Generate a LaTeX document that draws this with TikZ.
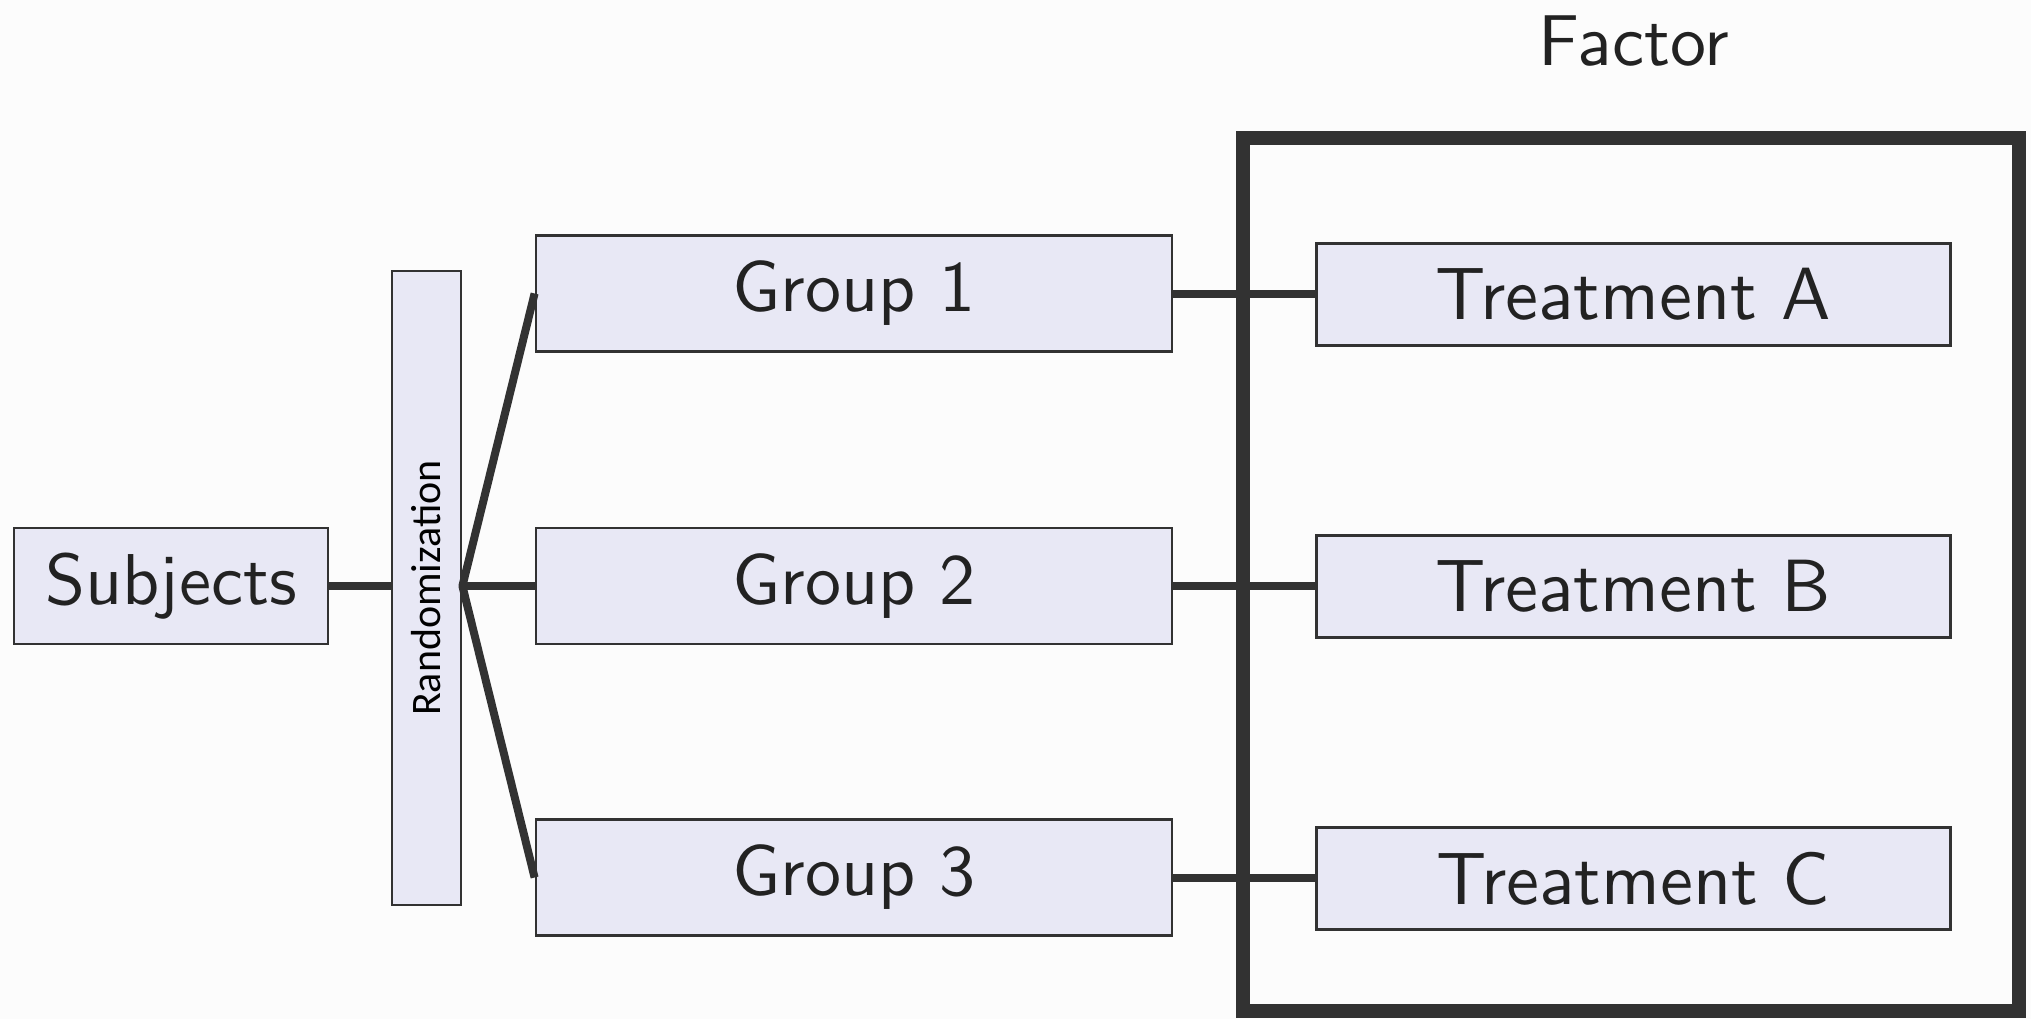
\documentclass[tikz,border=0pt]{standalone}
\usepackage{fontspec}
\newfontfamily\randfont{Carlito}
% the 10pt design of Latin Modern Sans, scaled up
\newfontfamily\tensans{lmsans10-regular}[Extension=.otf]
\definecolor{boxfill}{RGB}{232,232,245}
\definecolor{edge}{RGB}{50,50,50}
\definecolor{ink}{RGB}{34,34,34}
\definecolor{paper}{RGB}{252,252,252}
\begin{document}
\begin{tikzpicture}[x=0.5pt,y=-0.5pt,
  box/.style={draw=edge,line width=1.4pt,fill=boxfill,inner sep=0pt,text=ink,
    font=\tensans\fontsize{36}{40}\selectfont},
  groupbox/.style={box,minimum width=318pt,minimum height=58pt},
  treatbox/.style={box,minimum width=317pt,minimum height=51pt,
    font=\tensans\fontsize{37}{40}\selectfont},
  link/.style={draw=edge,line width=4pt},
]
% canvas
\fill[paper] (0,0) rectangle (2031,1019);
\useasboundingbox (0,0) rectangle (2031,1019);

% factor frame and its title
\draw[draw=edge,line width=7pt] (1243,138) rectangle (2019,1011);
\node[anchor=base,inner sep=0pt,text=ink,font=\tensans\fontsize{36}{40}\selectfont]
  (factor) at (1634,65) {Factor};

% boxes
\node[box,minimum width=157pt,minimum height=58pt] (subj) at (171,586) {Subjects};
\node[box,minimum width=34.5pt,minimum height=317pt,text=black,
  font=\randfont\fontsize{21}{24}\selectfont] (rand) at (426.5,588)
  {\rotatebox{90}{Randomization}};

\node[groupbox] (g1) at (854,293.5) {Group 1};
\node[groupbox] (g2) at (854,586)   {Group 2};
\node[groupbox] (g3) at (854,877.5) {Group 3};

\node[treatbox] (t1) at (1633.5,294.5) {Treatment A};
\node[treatbox] (t2) at (1633.5,586.5) {Treatment B};
\node[treatbox] (t3) at (1633.5,878.5) {Treatment C};

% connectors
\coordinate (fan) at (rand.east |- g2.west);
\draw[link] (subj.east) -- (subj.east -| rand.west);
\draw[link,line join=round] (g1.west) -- (fan) -- (g3.west);
\draw[link] (fan) -- (g2.west);
\draw[link] (g1.east) -- (t1.west |- g1.east);
\draw[link] (g2.east) -- (t2.west |- g2.east);
\draw[link] (g3.east) -- (t3.west |- g3.east);
\end{tikzpicture}
\end{document}
